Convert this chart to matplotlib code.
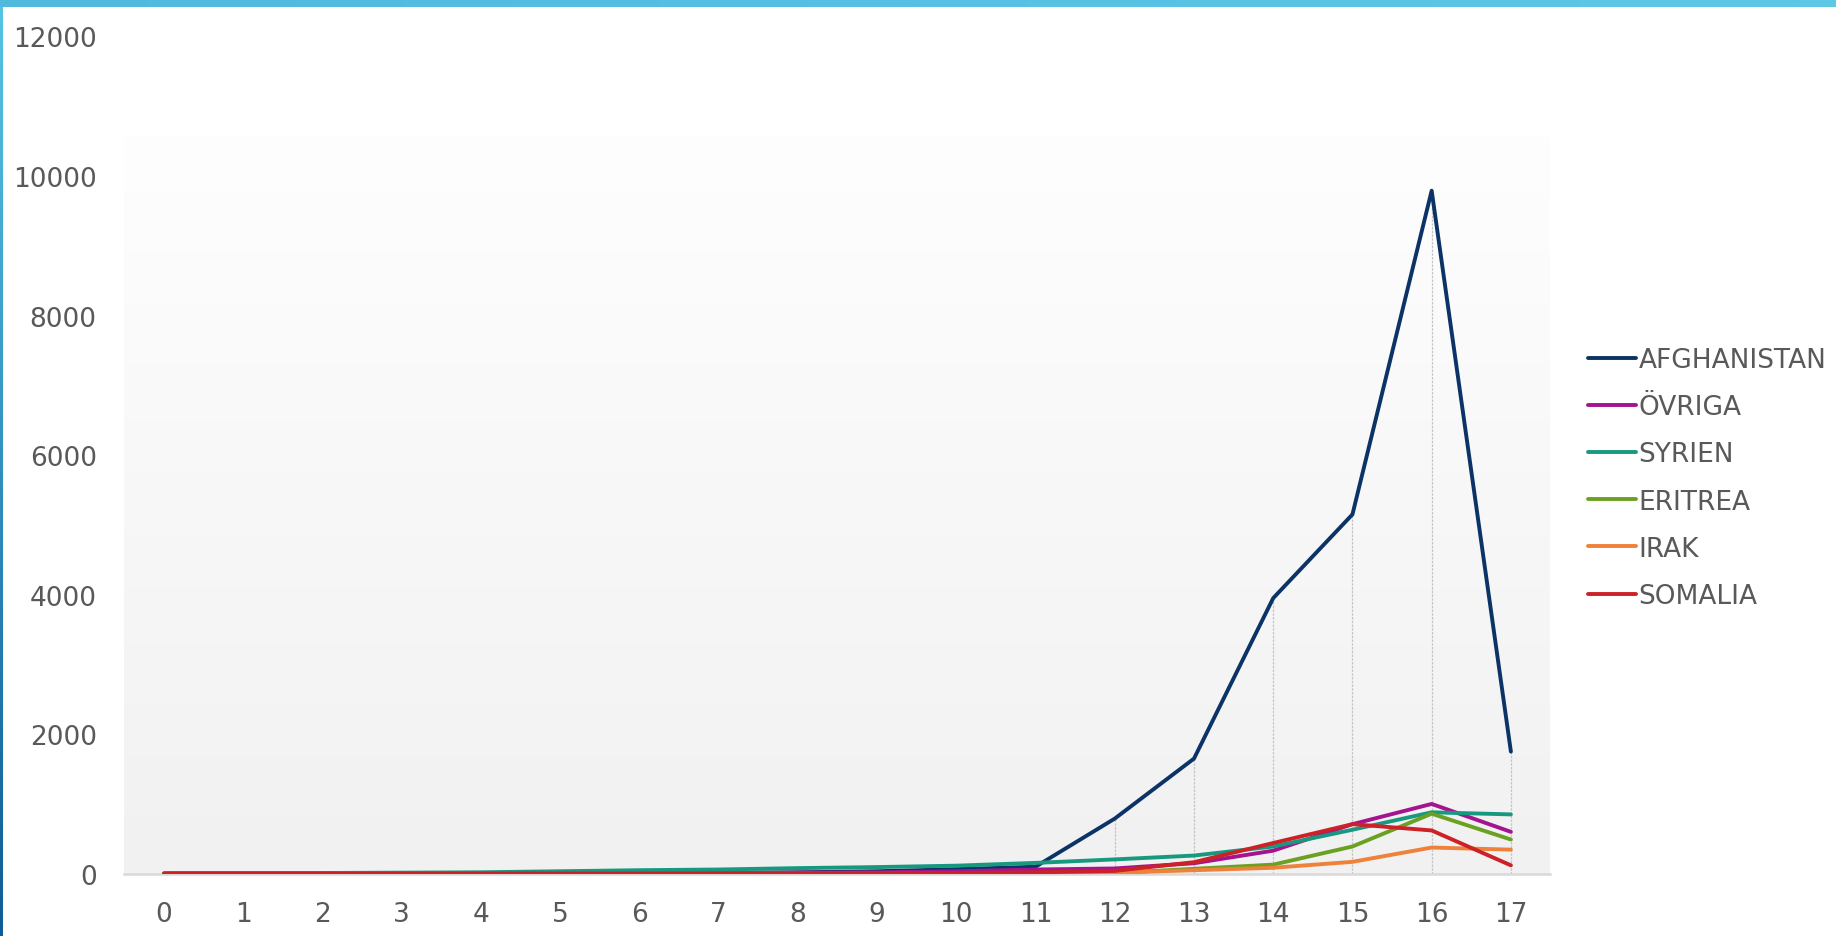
import numpy as np
import matplotlib
matplotlib.use("Agg")
import matplotlib.pyplot as plt
from matplotlib.colors import LinearSegmentedColormap

plt.rcParams['font.family'] = ['DejaVu Sans']

# data
years = list(range(18))
afghanistan = [0, 0, 0, 2, 3, 5, 8, 12, 20, 35, 65, 100, 790, 1650, 3950, 5150, 9790, 1750]
ovriga = [2, 2, 3, 4, 5, 6, 8, 10, 15, 20, 35, 60, 75, 150, 330, 710, 1000, 600]
syrien = [5, 8, 10, 15, 20, 35, 50, 60, 80, 95, 115, 155, 205, 260, 390, 630, 880, 850]
eritrea = [0, 0, 0, 0, 0, 0, 0, 0, 0, 0, 0, 2, 10, 70, 130, 390, 860, 490]
irak = [0, 0, 0, 0, 0, 0, 0, 0, 0, 0, 0, 2, 15, 50, 85, 170, 375, 345]
somalia = [5, 5, 5, 5, 5, 5, 5, 5, 5, 8, 10, 20, 40, 165, 440, 710, 620, 120]

series = [
    ("AFGHANISTAN", afghanistan, "#0b3366"),
    ("ÖVRIGA", ovriga, "#a5148f"),
    ("SYRIEN", syrien, "#17997f"),
    ("ERITREA", eritrea, "#6aa123"),
    ("IRAK", irak, "#ee823a"),
    ("SOMALIA", somalia, "#cc2127"),
]

W, H = 1836, 937
fig = plt.figure(figsize=(W / 100, H / 100), dpi=100)
fig.patch.set_facecolor("white")

# frame decoration: light blue top band and gradient left edge
top = fig.add_axes([0, 1 - 8 / H, 1, 8 / H])
top.imshow(np.linspace(0, 1, 50).reshape(1, -1), aspect="auto",
           cmap=LinearSegmentedColormap.from_list("t", ["#4fbade", "#5dc8e6"]))
top.axis("off")
left = fig.add_axes([0, 0, 3 / W, 1 - 8 / H])
left.imshow(np.linspace(0, 1, 50).reshape(-1, 1), aspect="auto",
            cmap=LinearSegmentedColormap.from_list("l", ["#55c3e3", "#0f5c96"]))
left.axis("off")

x0, x1 = 124.5, 1550.5
y0, y1 = 874.7, 37.5
ax = fig.add_axes([x0 / W, (H - y0) / H, (x1 - x0) / W, (y0 - y1) / H])
ax.set_xlim(-0.5, 17.5)
ax.set_ylim(0, 12000)
ax.patch.set_alpha(0)

# plot area gradient (white at top, light gray at bottom)
grad = LinearSegmentedColormap.from_list("g", ["#f1f1f1", "#fefefe"])
ax.imshow(np.linspace(0, 1, 200).reshape(-1, 1), aspect="auto", cmap=grad,
          extent=[-0.5, 17.5, 0, 10600], origin="lower", zorder=0)

# drop lines
ax.vlines(years, 0, afghanistan, colors="#c4c4c4", lw=0.9,
          linestyles=(0, (2, 1)), zorder=1)

for name, vals, col in series:
    ax.plot(years, vals, color=col, lw=2.8, label=name, zorder=3,
            solid_capstyle="round", solid_joinstyle="round")

for s in ["top", "right", "left"]:
    ax.spines[s].set_visible(False)
ax.spines["bottom"].set_color("#d9d9d9")
ax.spines["bottom"].set_linewidth(1.8)
ax.spines["bottom"].set_zorder(2)

ax.set_xticks(years)
ax.set_xticklabels([str(y) for y in years])
ax.set_yticks(range(0, 12001, 2000))
ax.tick_params(axis="both", length=0, labelsize=19, labelcolor="#595959")
ax.tick_params(axis="x", pad=20)
ax.tick_params(axis="y", pad=20)

fig.legend(loc="upper left", bbox_to_anchor=(1575 / W, 1 - 335 / H),
           frameon=False, fontsize=19, handlelength=1.8, handletextpad=0.1,
           labelspacing=0.8, borderpad=0, labelcolor="#595959")

fig.savefig("out.png", dpi=100)
